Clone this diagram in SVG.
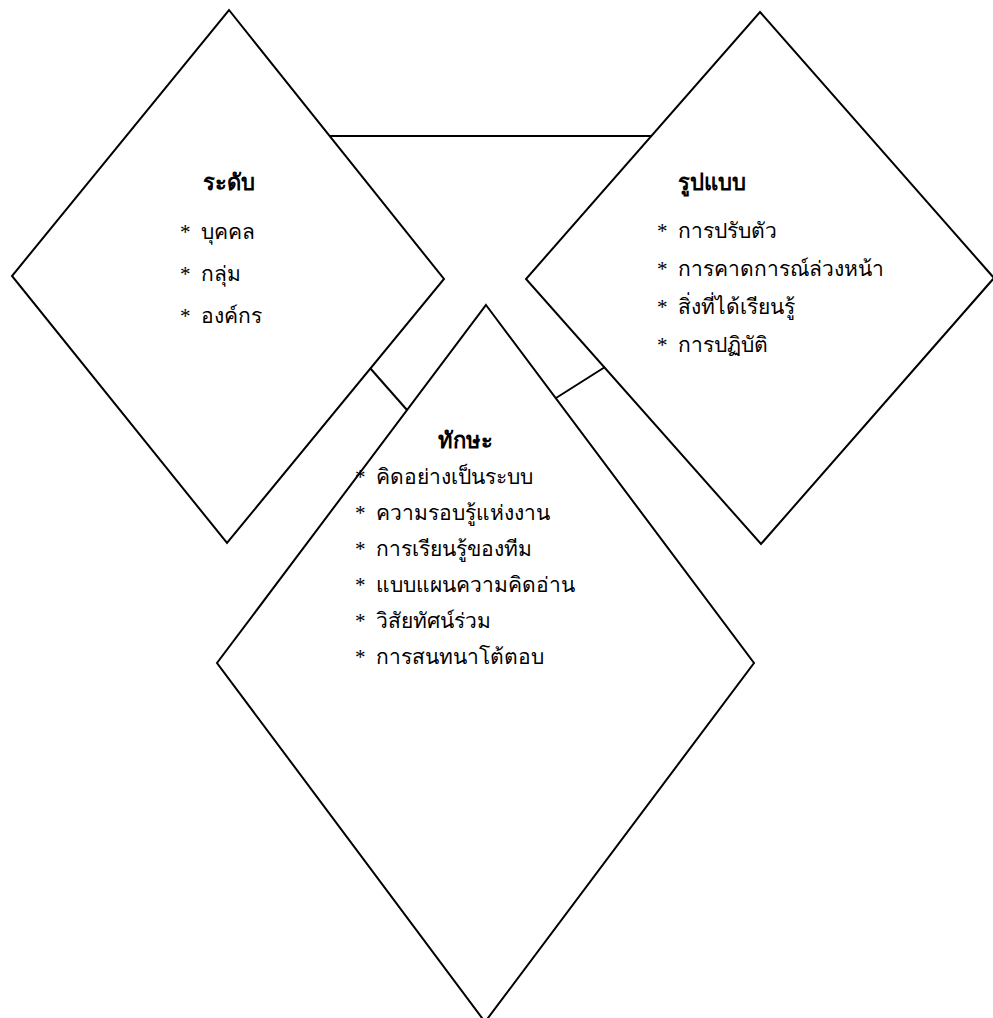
<svg xmlns="http://www.w3.org/2000/svg" width="993" height="1018" viewBox="0 0 993 1018">
<style>
.shape{fill:none;stroke:#000;stroke-width:2;stroke-linejoin:miter}
.conn{fill:none;stroke:#000;stroke-width:2}
text{font-family:"Liberation Serif","DejaVu Serif",serif;font-size:21px;fill:#000}
.title{font-weight:bold;text-anchor:middle;font-size:22px}
</style>
<rect width="993" height="1018" fill="#fff"/>
<g id="connectors">
<line class="conn" x1="330" y1="136" x2="651" y2="136"/>
<line class="conn" x1="370" y1="368" x2="407" y2="410"/>
<line class="conn" x1="605" y1="367" x2="556" y2="398"/>
</g>
<g id="node-level">
<polygon class="shape" points="229,10 444,279 227,543 12,276"/>
<text class="title" x="229" y="190">ระดับ</text>
<text x="180" y="239">*&#160;&#160;บุคคล</text>
<text x="180" y="281">*&#160;&#160;กลุ่ม</text>
<text x="180" y="323">*&#160;&#160;องค์กร</text>
</g>
<g id="node-pattern">
<polygon class="shape" points="760,12 994,278 761,544 526,279"/>
<text class="title" x="712" y="190">รูปแบบ</text>
<text x="657" y="238">*&#160;&#160;การปรับตัว</text>
<text x="657" y="276">*&#160;&#160;การคาดการณ์ล่วงหน้า</text>
<text x="657" y="314">*&#160;&#160;สิ่งที่ได้เรียนรู้</text>
<text x="657" y="352">*&#160;&#160;การปฏิบัติ</text>
</g>
<g id="node-skill">
<polygon class="shape" points="486,305 754,663 485,1022 217,663"/>
<text class="title" x="465" y="448">ทักษะ</text>
<text x="355" y="484">*&#160;&#160;คิดอย่างเป็นระบบ</text>
<text x="355" y="520">*&#160;&#160;ความรอบรู้แห่งงาน</text>
<text x="355" y="556">*&#160;&#160;การเรียนรู้ของทีม</text>
<text x="355" y="592">*&#160;&#160;แบบแผนความคิดอ่าน</text>
<text x="355" y="628">*&#160;&#160;วิสัยทัศน์ร่วม</text>
<text x="355" y="664">*&#160;&#160;การสนทนาโต้ตอบ</text>
</g>
</svg>
